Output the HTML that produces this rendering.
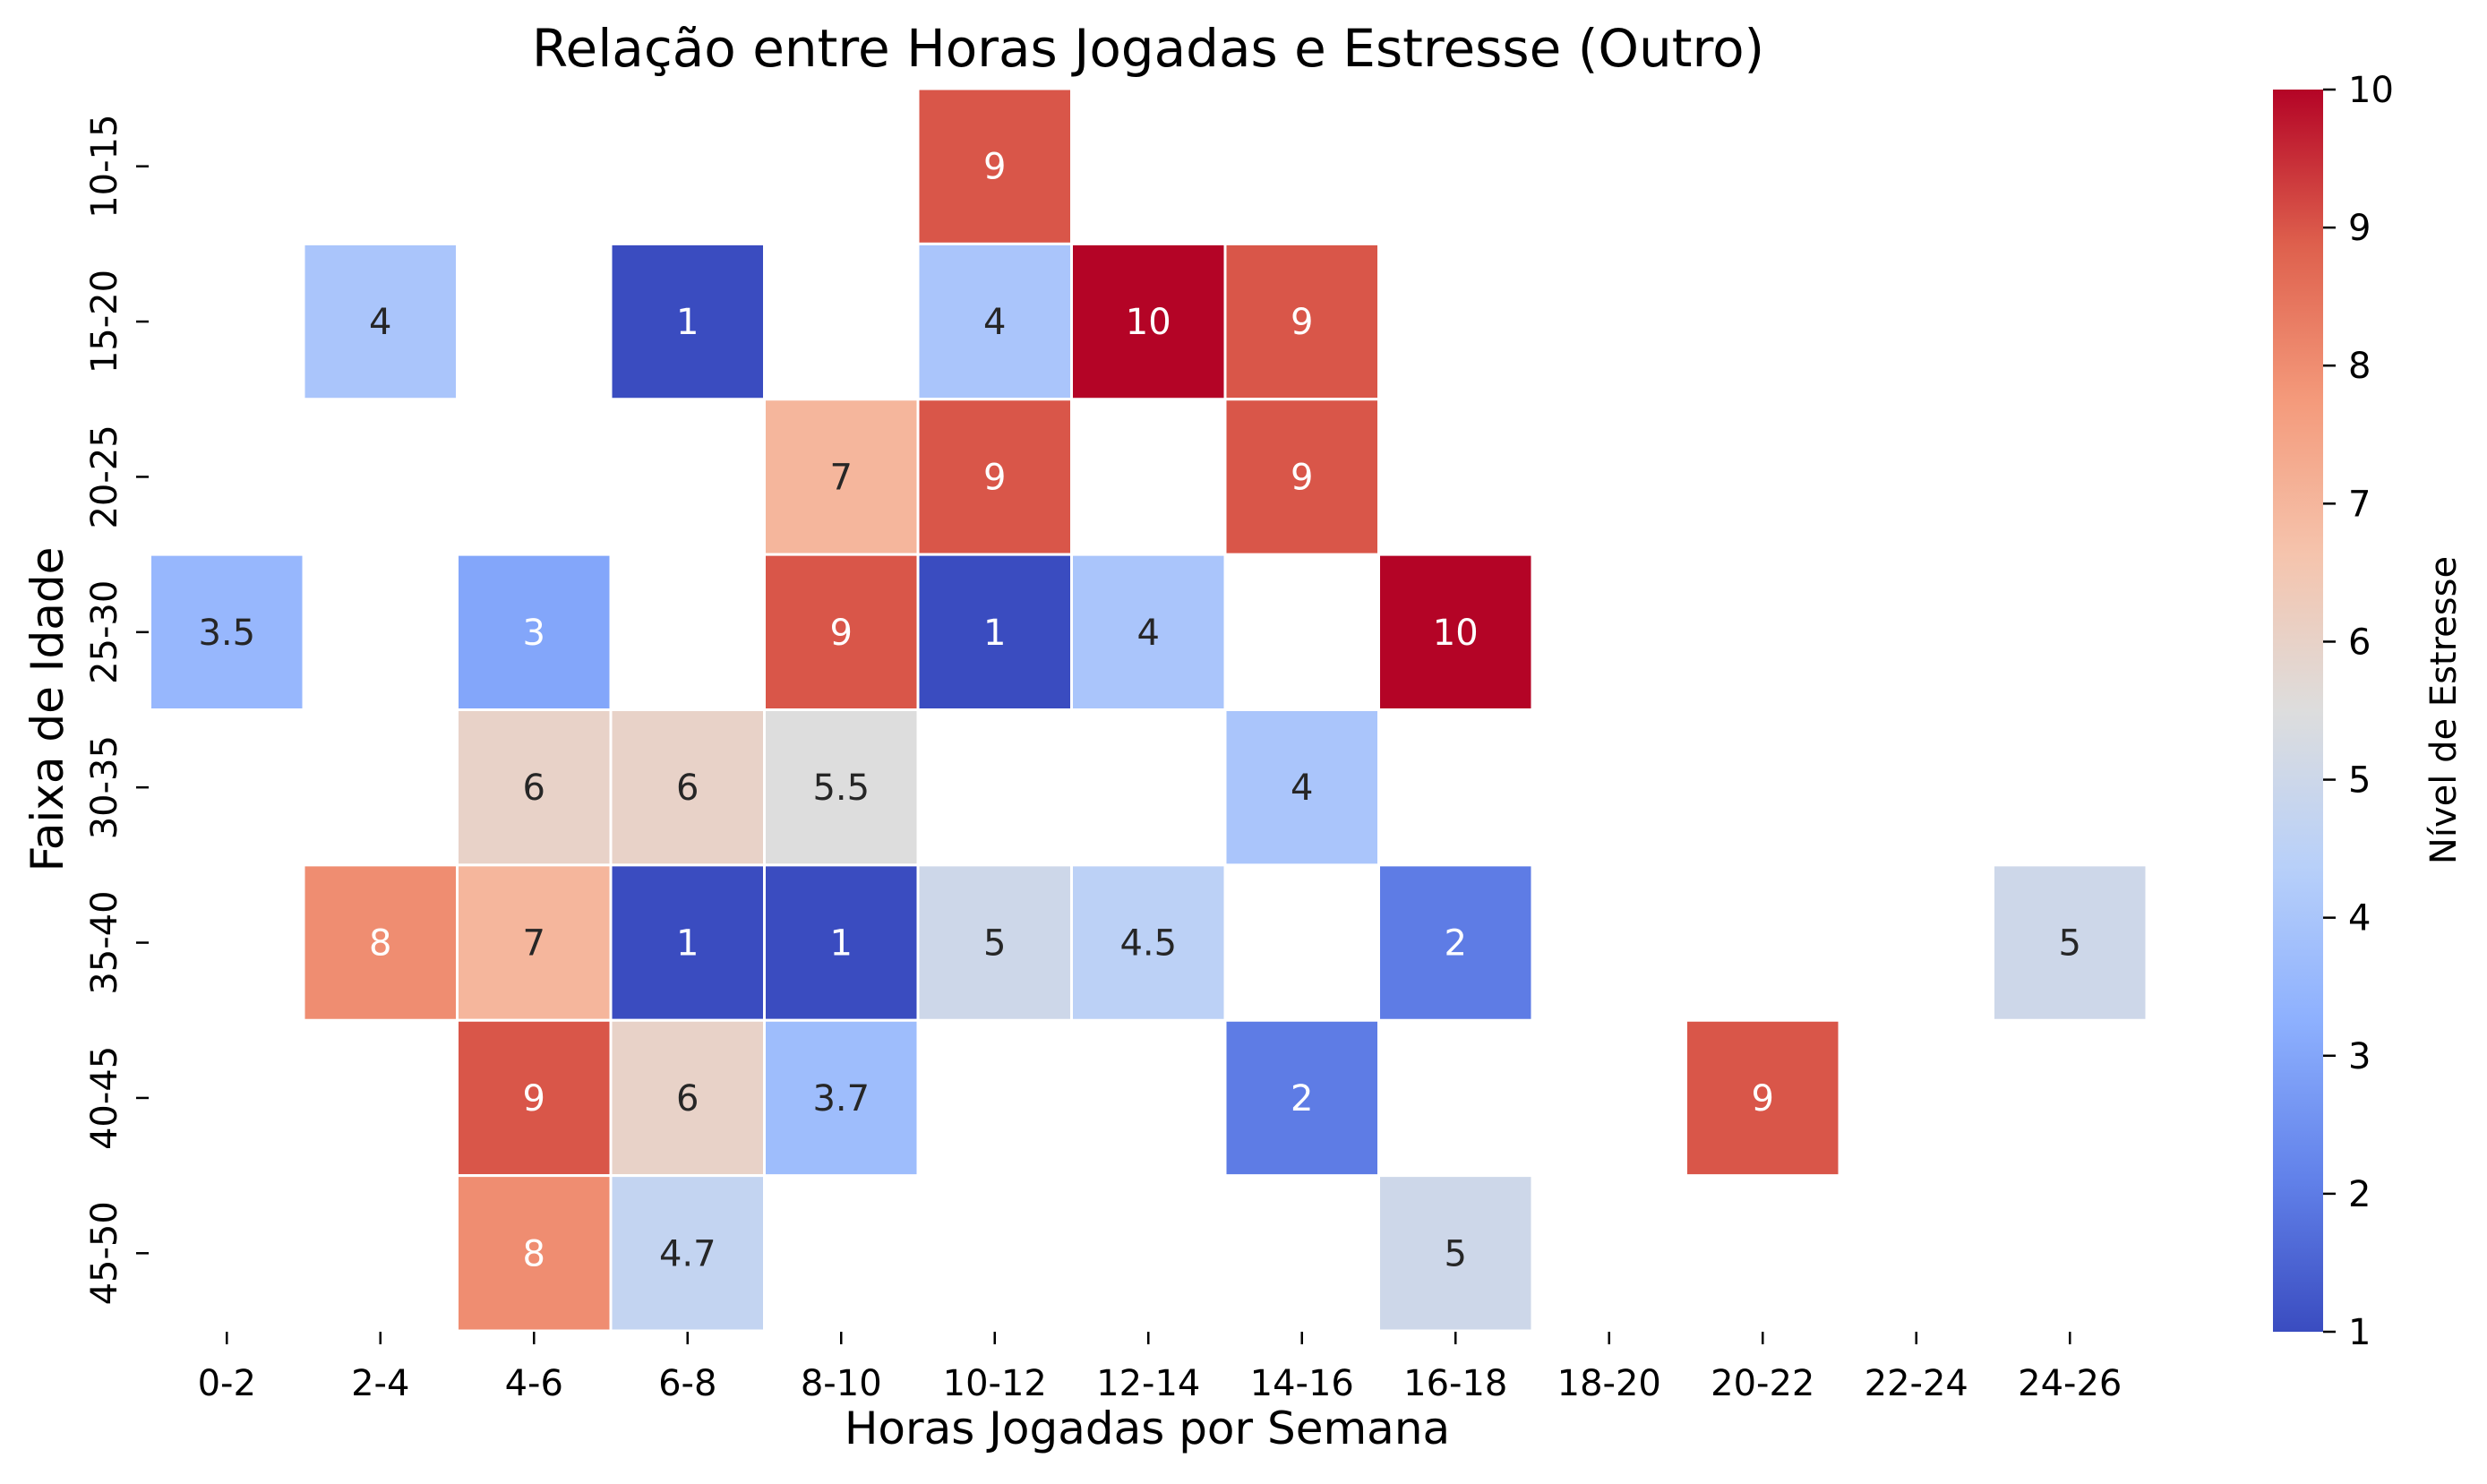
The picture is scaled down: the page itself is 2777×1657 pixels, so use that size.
<!DOCTYPE html>
<html><head><meta charset="utf-8">
<style>
html,body{margin:0;padding:0;background:#fff;}
svg text{font-family:"DejaVu Sans","Liberation Sans",sans-serif;}
</style></head>
<body>
<svg id="chart" xmlns="http://www.w3.org/2000/svg" width="2777" height="1652" viewBox="0 0 2777 1652">
<defs>
<linearGradient id="cmap" x1="0" y1="1" x2="0" y2="0">
<stop offset="0" stop-color="rgb(58,76,192)"/>
<stop offset="0.125" stop-color="rgb(98,130,234)"/>
<stop offset="0.25" stop-color="rgb(141,176,254)"/>
<stop offset="0.375" stop-color="rgb(184,208,249)"/>
<stop offset="0.5" stop-color="rgb(221,221,221)"/>
<stop offset="0.625" stop-color="rgb(245,196,173)"/>
<stop offset="0.75" stop-color="rgb(244,154,123)"/>
<stop offset="0.875" stop-color="rgb(222,96,77)"/>
<stop offset="1" stop-color="rgb(180,4,38)"/>
</linearGradient>
</defs>
<text x="1282" y="74" font-size="58" text-anchor="middle" fill="#000">Relação entre Horas Jogadas e Estresse (Outro)</text>
<g id="cells"></g>
<g id="xaxis"></g>
<g id="yaxis"></g>
<text x="1281" y="1612" font-size="50" text-anchor="middle" fill="#000">Horas Jogadas por Semana</text>
<text transform="translate(70,792) rotate(-90)" font-size="50" text-anchor="middle" fill="#000">Faixa de Idade</text>
<rect x="2538" y="100" width="56" height="1387" fill="url(#cmap)"/>
<g id="cbar"></g>
<text transform="translate(2742,793) rotate(-90)" font-size="40" text-anchor="middle" fill="#000">Nível de Estresse</text>
</svg>
<script>
const hourBins = ["0-2","2-4","4-6","6-8","8-10","10-12","12-14","14-16","16-18","18-20","20-22","22-24","24-26"];
const ageBins = ["10-15","15-20","20-25","25-30","30-35","35-40","40-45","45-50"];
const cellAge = ["10-15","15-20","15-20","15-20","15-20","15-20","20-25","20-25","20-25","25-30","25-30","25-30","25-30","25-30","25-30","30-35","30-35","30-35","30-35","35-40","35-40","35-40","35-40","35-40","35-40","35-40","35-40","40-45","40-45","40-45","40-45","40-45","45-50","45-50","45-50"];
const cellHours = ["10-12","2-4","6-8","10-12","12-14","14-16","8-10","10-12","14-16","0-2","4-6","8-10","10-12","12-14","16-18","4-6","6-8","8-10","14-16","2-4","4-6","6-8","8-10","10-12","12-14","16-18","24-26","4-6","6-8","8-10","14-16","20-22","4-6","6-8","16-18"];
const cellStress = [9,4,1,4,10,9,7,9,9,3.5,3,9,1,4,10,6,6,5.5,4,8,7,1,1,5,4.5,2,5,9,6,3.7,2,9,8,4.7,5];
const cbarTicks = [1,2,3,4,5,6,7,8,9,10];

const NS="http://www.w3.org/2000/svg";
const L=167.5,R=2397,T=99,B=1486;
const cw=(R-L)/hourBins.length, rh=(B-T)/ageBins.length;
const vmin=1,vmax=10;
const xPos=h=>L+hourBins.indexOf(h)*cw;
const yPos=a=>T+ageBins.indexOf(a)*rh;
const cbY=v=>1487-(v-vmin)/(vmax-vmin)*1387;
const stops=[[58,76,192],[98,130,234],[141,176,254],[184,208,249],[221,221,221],[245,196,173],[244,154,123],[222,96,77],[180,4,38]];
function cmap(v){let t=Math.max(0,Math.min(1,(v-vmin)/(vmax-vmin)))*8;let i=Math.min(7,Math.floor(t));let f=t-i;
 return stops[i].map((c,k)=>Math.round(c+(stops[i+1][k]-c)*f));}
function lum(c){const l=c.map(x=>{x/=255;return x<=0.03928?x/12.92:Math.pow((x+0.055)/1.055,2.4);});return 0.2126*l[0]+0.7152*l[1]+0.0722*l[2];}
function mk(tag,attrs,parent){const e=document.createElementNS(NS,tag);for(const k in attrs)e.setAttribute(k,attrs[k]);parent.appendChild(e);return e;}

const gc=document.getElementById('cells');
cellStress.forEach((v,i)=>{
 const x=xPos(cellHours[i]),y=yPos(cellAge[i]);const c=cmap(v);
 const r=mk('rect',{x:x,y:y,width:cw,height:rh,fill:`rgb(${c})`,stroke:'#fff','stroke-width':3},gc);
 
 
 const t=mk('text',{x:x+cw/2,y:y+rh/2+14,'font-size':40,'text-anchor':'middle',fill:lum(c)>0.408?'#262626':'#ffffff'},gc);
 t.textContent=String(v);
 
 
});
const gx=document.getElementById('xaxis');
hourBins.forEach((h,i)=>{const cx=L+(i+0.5)*cw;
 const tk=mk('line',{x1:cx,x2:cx,y1:1487,y2:1501,stroke:'#000','stroke-width':2.5},gx);
 
 
 const t=mk('text',{x:cx,y:1558,'font-size':40,'text-anchor':'middle',fill:'#000'},gx);t.textContent=h;
 
 
});
const gy=document.getElementById('yaxis');
ageBins.forEach((a,i)=>{const cy=T+(i+0.5)*rh;
 const tk=mk('line',{x1:152,x2:166,y1:cy,y2:cy,stroke:'#000','stroke-width':2.5},gy);
 
 
 const t=mk('text',{transform:`translate(130,${cy}) rotate(-90)`,'font-size':40,'text-anchor':'middle',fill:'#000'},gy);t.textContent=a;
 
 
});
const gb=document.getElementById('cbar');
cbarTicks.forEach(v=>{const y=cbY(v);
 const tk=mk('line',{x1:2594,x2:2608,y1:y,y2:y,stroke:'#000','stroke-width':2.5},gb);
 
 
 const t=mk('text',{x:2622,y:y+14,'font-size':40,fill:'#000'},gb);t.textContent=v;
 
 
});
</script>
</body></html>
